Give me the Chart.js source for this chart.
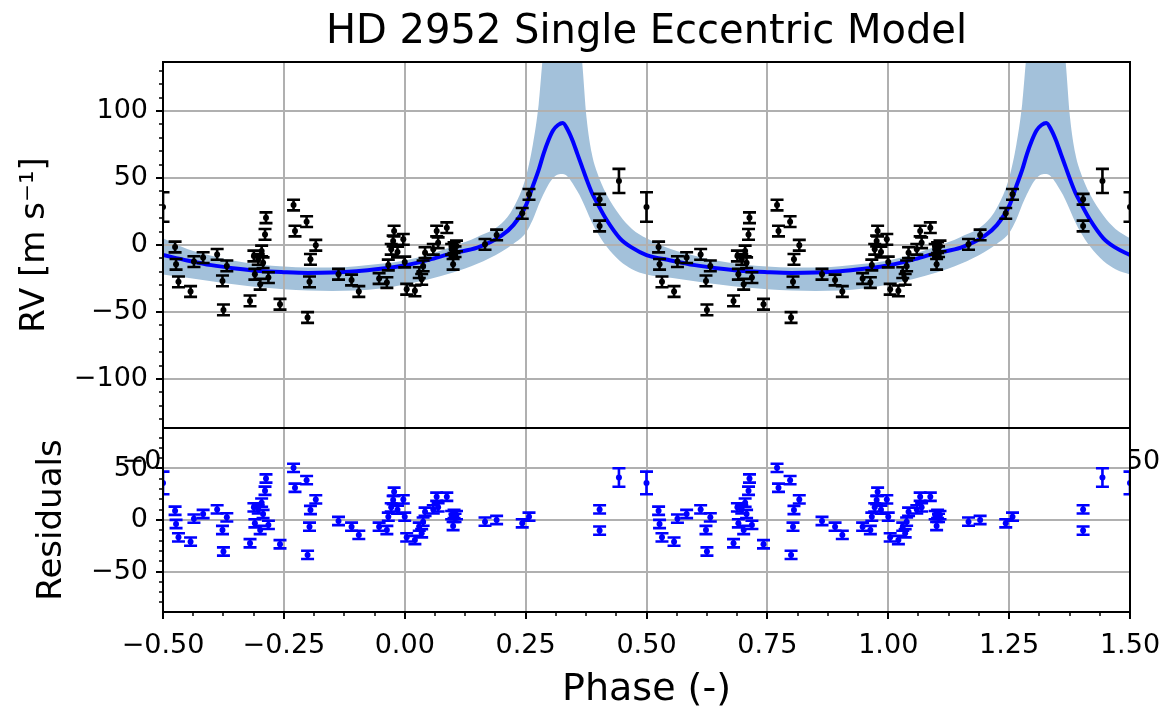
<!DOCTYPE html>
<html><head><meta charset="utf-8">
<script src="https://cdn.jsdelivr.net/npm/chart.js@4/dist/chart.umd.min.js"></script>
<style>
html,body{margin:0;padding:0;background:#fff;}
#wrap{position:relative;width:1168px;height:715px;overflow:hidden;}
canvas{position:absolute;left:0;top:0;}
</style></head><body>
<div id="wrap"><canvas id="topc" width="1168" height="715"></canvas><canvas id="botc" width="1168" height="715"></canvas></div>
<script>
// ---------- data (one folded cycle, phase in [-0.5, 0.5]) ----------
const obsPhase = [0.500,-0.475,-0.473,-0.468,-0.443,-0.436,-0.417,-0.388,-0.377,-0.375,-0.368,-0.320,-0.312,-0.310,-0.303,-0.299,-0.296,-0.289,-0.287,-0.293,-0.282,-0.258,-0.230,-0.227,-0.203,-0.197,-0.201,-0.195,-0.184,-0.137,-0.110,-0.095,-0.053,-0.037,-0.034,-0.022,-0.024,-0.028,-0.003,-0.015,0.000,0.004,0.021,0.030,0.035,0.038,0.042,0.059,0.066,0.087,0.069,0.097,0.100,0.107,0.102,0.104,0.166,0.190,0.243,0.257,0.403,0.403,0.443];
const obsRV    = [28.3,-1.5,-14.4,-27.5,-34.7,-12.4,-9.4,-7.0,-26.8,-48.4,-15.6,-41.7,-8.2,-21.8,-10.7,-29.3,-4.5,7.9,20.3,-13.2,-24.3,-44.2,29.8,10.4,17.4,-27.5,-54.1,-10.7,-0.2,-21.8,-26.1,-34.7,-25.0,-28.0,-14.9,10.4,3.0,-3.2,4.2,-5.2,-12.7,-33.0,-34.2,-20.6,-25.6,-15.6,-5.7,-3.2,10.4,12.9,1.7,-3.2,-14.4,-0.7,-2.0,-5.0,0.5,7.5,23.6,37.8,34.1,14.2,47.8];
const obsErr   = [11,4,4,4,4,4,4,4,4,4,4,4,4,4,4,4,4,4,4,4,4,4,4,4,4,4,4,4,4,4,4,4,4,4,4,4,4,4,4,4,4,4,4,4,4,4,4,4,4,4,4,4,4,4,4,4,4,4,4,4,4,4,9];
const obsResid = [36,9,-3.9,-16.8,-21,1.3,5.8,10.3,-9.7,-30.6,2.6,-22.6,12.3,-3.2,10.3,-9.7,16.8,28.4,40.3,5.8,-4.8,-23.5,50.6,31.3,38.7,-6.5,-33.9,9.7,20,-1,-6.5,-14.5,-6.5,-9.7,3.2,27.4,19.4,12.3,20,10,3.2,-16.8,-19.4,-6.5,-12.9,-1.6,8,10.3,22.6,22.6,12.3,4.8,-5.8,4.8,6,2,-1.6,0,-3.2,3.2,10.3,-10.3,41.3];

const modelPhase = [-0.5,-0.45,-0.4,-0.35,-0.3,-0.25,-0.2,-0.15,-0.1,-0.05,0,0.05,0.1,0.15,0.2,0.225,0.25,0.265,0.277,0.287,0.297,0.307,0.317,0.327,0.337,0.347,0.357,0.366,0.376,0.387,0.397,0.417,0.445,0.47,0.5];
const modelRV    = [-7.5,-11.5,-15,-17.5,-19.4,-20.3,-20.8,-20.5,-19.5,-17.7,-15.3,-11,-6,-2,7,15,29,44,56,68,78,85.6,89.5,91,86,78,68,59,49,39,32,19,5,-2,-7.5];
const bandUpper  = [5,-3,-8,-12,-14.5,-16,-16.8,-16.8,-15.8,-14,-11.5,-7,-1,6,16,28,50,75,105,145,160,160,160,160,160,160,160,140,95,68,55,38,22,12,5];
const bandLower  = [-22,-24.5,-27,-29.5,-31.5,-33,-34,-34.3,-34,-32.5,-29.5,-25.5,-20.5,-14,-5,1,9,19,30,38,45,50,52.5,53,51,46,40,34,26,17,10,-1,-12,-18,-22];

const xTicksMajor = 0.25, xTicksMinor = 0.0625;
const titleText = 'HD 2952 Single Eccentric Model';
const xLabel = 'Phase (-)';
const yLabelTop = 'RV [m s\u207B\u00B9]';
const yLabelBot = 'Residuals';

// ---------- build plotted copies (phase shifted by whole cycles into [-0.5, 1.5]) ----------
function foldPoints(vals){
  const out=[];
  for(let i=0;i<obsPhase.length;i++){
    for(const k of [-1,0,1]){
      const x=obsPhase[i]+k;
      if(x>=-0.5-1e-9 && x<=1.5+1e-9) out.push({x:x,y:vals[i],e:obsErr[i]});
    }
  }
  return out;
}
function modelSeries(vals){
  const out=[];
  for(const k of [0,1]){
    for(let i=0;i<modelPhase.length;i++){
      if(k===1 && i===0) continue;
      out.push({x:modelPhase[i]+k,y:vals[i]});
    }
  }
  return out;
}

Chart.defaults.font.family='"DejaVu Sans", sans-serif';
Chart.defaults.color='#000';

const minus = s => String(s).replace('-', '\u2212');
const fmtX = v => (v < -1e-9 ? '\u2212' : '') + Math.abs(v).toFixed(2);
const fmtY = v => minus(Math.round(v));

const mplTicks = {
  id:'mplTicks',
  afterDraw(chart, args, o){
    const {ctx, chartArea:a} = chart;
    const x = chart.scales.x, y = chart.scales.y;
    ctx.save();
    ctx.strokeStyle='#000';
    ctx.lineCap='butt';
    const eps=1e-6;
    for(let v=Math.ceil((x.min-eps)/o.xMinor)*o.xMinor; v<=x.max+eps; v+=o.xMinor){
      const major=Math.abs(v/o.xMajor-Math.round(v/o.xMajor))<1e-4;
      const p=Math.round(x.getPixelForValue(v));
      ctx.lineWidth=major?2:1.5;
      ctx.beginPath(); ctx.moveTo(p,a.bottom); ctx.lineTo(p,a.bottom+(major?7:4)); ctx.stroke();
    }
    for(let v=Math.ceil((y.min-eps)/o.yMinor)*o.yMinor; v<=y.max+eps; v+=o.yMinor){
      const major=Math.abs(v/o.yMajor-Math.round(v/o.yMajor))<1e-4;
      const p=Math.round(y.getPixelForValue(v));
      ctx.lineWidth=major?2:1.5;
      ctx.beginPath(); ctx.moveTo(a.left,p); ctx.lineTo(a.left-(major?7:4),p); ctx.stroke();
    }
    ctx.lineWidth=2;
    ctx.strokeRect(a.left,a.top,a.right-a.left,a.bottom-a.top);
    ctx.restore();
  }
};

const errBars = {
  id:'errBars',
  afterDatasetDraw(chart, args, o){
    if(args.index!==0) return;
    const {ctx, chartArea:a} = chart;
    const x=chart.scales.x, y=chart.scales.y;
    const ds=chart.data.datasets[0];
    ctx.save();
    ctx.beginPath(); ctx.rect(a.left,a.top,a.right-a.left,a.bottom-a.top); ctx.clip();
    ctx.strokeStyle=o.color; ctx.lineWidth=2.6; ctx.lineCap='butt';
    for(const d of ds.data){
      const px=x.getPixelForValue(d.x);
      const t=y.getPixelForValue(d.y+d.e), b=y.getPixelForValue(d.y-d.e);
      ctx.beginPath(); ctx.moveTo(px,t); ctx.lineTo(px,b);
      ctx.moveTo(px-6.5,t); ctx.lineTo(px+6.5,t);
      ctx.moveTo(px-6.5,b); ctx.lineTo(px+6.5,b);
      ctx.stroke();
    }
    ctx.restore();
  }
};

const whiteArea = {
  id:'whiteArea',
  beforeDraw(chart){
    const {ctx, chartArea:a}=chart;
    ctx.save(); ctx.fillStyle='#fff'; ctx.fillRect(a.left,a.top,a.right-a.left,a.bottom-a.top); ctx.restore();
  }
};

const gridOpts = {color:'#b0b0b0', lineWidth:2, drawTicks:false};
const tickFont = {size:27};

function xScale(height, withTitle){
  return {
    type:'linear', min:-0.5, max:1.5,
    ticks:{stepSize:xTicksMajor, callback:fmtX, font:tickFont, padding:18, maxRotation:0, autoSkip:false, color:'#000'},
    grid:gridOpts, border:{display:false},
    title: withTitle ? {display:true, text:xLabel, font:{size:38}, padding:{top:0,bottom:2}, color:'#000'} : {display:false},
    afterFit(s){ s.height=height; s.paddingLeft=0; s.paddingRight=0; }
  };
}
function yScale(lim, label, titlePadTop){
  return {
    type:'linear', min:-lim, max:lim,
    ticks:{stepSize:50, includeBounds:false, callback:fmtY, font:tickFont, padding:15, color:'#000'},
    grid:gridOpts, border:{display:false},
    title:{display:true, text:label, font:{size:34}, padding:{top:titlePadTop,bottom:0}, color:'#000'},
    afterFit(s){ s.width=163; s.paddingTop=0; s.paddingBottom=0; }
  };
}

new Chart(document.getElementById('topc'), {
  type:'scatter',
  data:{datasets:[
    {data:foldPoints(obsRV), pointRadius:3, pointBackgroundColor:'#000', pointBorderWidth:0, showLine:false},
    {data:modelSeries(modelRV), showLine:true, borderColor:'#0000ff', borderWidth:4, pointRadius:0, cubicInterpolationMode:'monotone', fill:false},
    {data:modelSeries(bandUpper), showLine:true, borderWidth:0, borderColor:'rgba(0,0,0,0)', pointRadius:0, cubicInterpolationMode:'monotone', fill:'+1', backgroundColor:'rgb(163,193,218)'},
    {data:modelSeries(bandLower), showLine:true, borderWidth:0, borderColor:'rgba(0,0,0,0)', pointRadius:0, cubicInterpolationMode:'monotone', fill:false}
  ]},
  options:{
    responsive:false, animation:false, events:[],
    layout:{padding:{left:0,right:38,top:0,bottom:0}},
    plugins:{
      legend:{display:false}, tooltip:{enabled:false},
      filler:{drawTime:'beforeDraw'},
      title:{display:true, text:titleText, fullSize:false, font:{size:40, weight:'normal'}, color:'#000', padding:{top:9,bottom:5}},
      mplTicks:{xMajor:xTicksMajor, xMinor:xTicksMinor, yMajor:50, yMinor:10},
      errBars:{color:'#000'}
    },
    scales:{ x:xScale(287,false), y:yScale(136.5, yLabelTop, 15) }
  },
  plugins:[mplTicks, errBars]
});

new Chart(document.getElementById('botc'), {
  type:'scatter',
  data:{datasets:[
    {data:foldPoints(obsResid), pointRadius:3, pointBackgroundColor:'#0000ff', pointBorderWidth:0, showLine:false}
  ]},
  options:{
    responsive:false, animation:false, events:[],
    layout:{padding:{left:0,right:38,top:428,bottom:0}},
    plugins:{
      legend:{display:false}, tooltip:{enabled:false},
      mplTicks:{xMajor:xTicksMajor, xMinor:xTicksMinor, yMajor:50, yMinor:10},
      errBars:{color:'#0000ff'}
    },
    scales:{ x:xScale(103,true), y:yScale(89.3, yLabelBot, 32) }
  },
  plugins:[whiteArea, mplTicks, errBars]
});
</script>
</body></html>
